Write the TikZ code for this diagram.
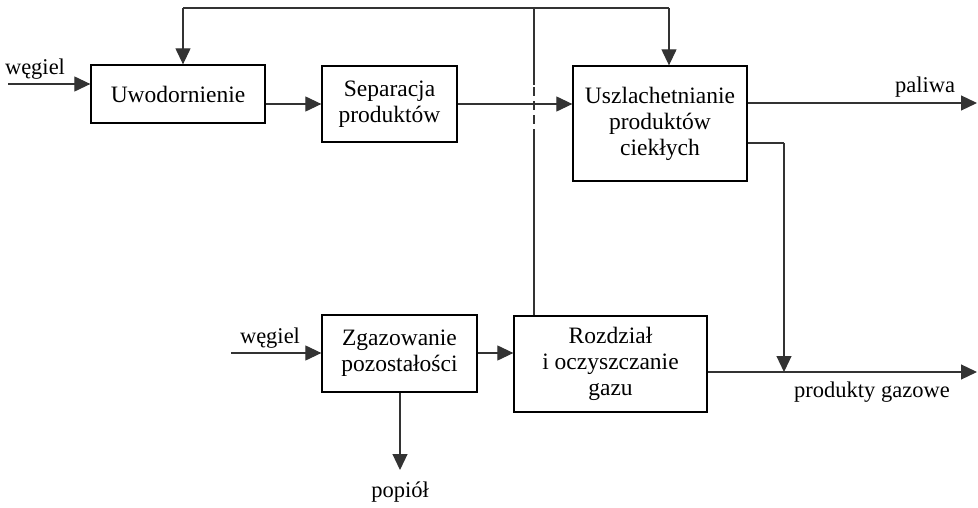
\documentclass[tikz,border=0pt]{standalone}
\usepackage{fontspec}
\setmainfont{Liberation Serif}
\usetikzlibrary{arrows.meta}
\begin{document}
\begin{tikzpicture}[x=1pt,y=-1pt,
  line width=1.2pt,
  box/.style={draw, line width=1.3pt, inner sep=0pt},
  lbl/.style={font=\fontsize{22.5}{26}\selectfont, inner sep=0pt},
  boxtext/.style={font=\fontsize{23.5}{26}\selectfont, align=center, inner sep=0pt},
  arr/.style={-{Triangle[length=16pt,width=15pt]}},
  ln/.style={draw=black!80}
]
\useasboundingbox (0,0) rectangle (978,508);
% boxes
\node[box, minimum width=174pt, minimum height=58pt] (uwo) at (178,94) {};
\node[boxtext] at (uwo) {Uwodornienie};
\node[box, minimum width=135pt, minimum height=76pt] (sep) at (389.5,104) {};
\node[boxtext] at (sep) {Separacja\\produktów};
\node[box, minimum width=174pt, minimum height=115pt] (usz) at (660,123.5) {};
\node[boxtext] at (usz) {Uszlachetnianie\\produktów\\ciekłych};
\node[box, minimum width=155pt, minimum height=77pt] (zga) at (399.5,353.5) {};
\node[boxtext] at (zga) {Zgazowanie\\pozostałości};
\node[box, minimum width=193pt, minimum height=96pt] (roz) at (610.5,364) {};
\node[boxtext] at (roz) {Rozdział\\i oczyszczanie\\gazu};
% coordinates
\coordinate (w1) at (8,84);
\coordinate (w2) at (231,353);
\coordinate (pal) at (977,103);
\coordinate (gas) at (977,372);
\coordinate (pop) at (400,470);
\coordinate (tl) at (183,8);
\coordinate (tr) at (669,8);
\coordinate (tm) at (534,8);
\coordinate (d1) at (534,85);
\coordinate (d2) at (534,138);
\coordinate (corner) at (784,143);
\coordinate (join) at (784,372);
% top loop
\draw[ln] (roz.north -| tm) -- (d2);
\draw[ln, dash pattern=on 9pt off 5pt] (d2) -- (d1);
\draw[ln] (d1) -- (tm);
\draw[ln] (tl) -- (tr);
\draw[ln, arr] (tl) -- (uwo.north -| tl);
\draw[ln, arr] (tr) -- (usz.north -| tr);
% main flow
\draw[ln, arr] (w1) -- (uwo.west |- w1);
\draw[ln, arr] (uwo.east |- 0,104) -- (sep.west |- 0,104);
\draw[ln, arr] (sep.east |- 0,104) -- (usz.west |- 0,104);
\draw[ln, arr] (usz.east |- pal) -- (pal);
\draw[ln] (usz.east |- corner) -- (corner);
\draw[ln, arr] (corner) -- (join);
\draw[ln, arr] (roz.east |- gas) -- (gas);
\draw[ln, arr] (w2) -- (zga.west |- w2);
\draw[ln, arr] (zga.east |- w2) -- (roz.west |- w2);
\draw[ln, arr] (zga.south -| pop) -- (pop);
% labels
\node[lbl, anchor=base] (lw1) at (35,75) {węgiel};
\node[lbl, anchor=base] (lw2) at (270,343) {węgiel};
\node[lbl, anchor=base] (lpal) at (925,93) {paliwa};
\node[lbl, anchor=base] (lgas) at (872,397) {produkty gazowe};
\node[lbl, anchor=base] (lpop) at (400,497) {popiół};
\end{tikzpicture}
\end{document}
